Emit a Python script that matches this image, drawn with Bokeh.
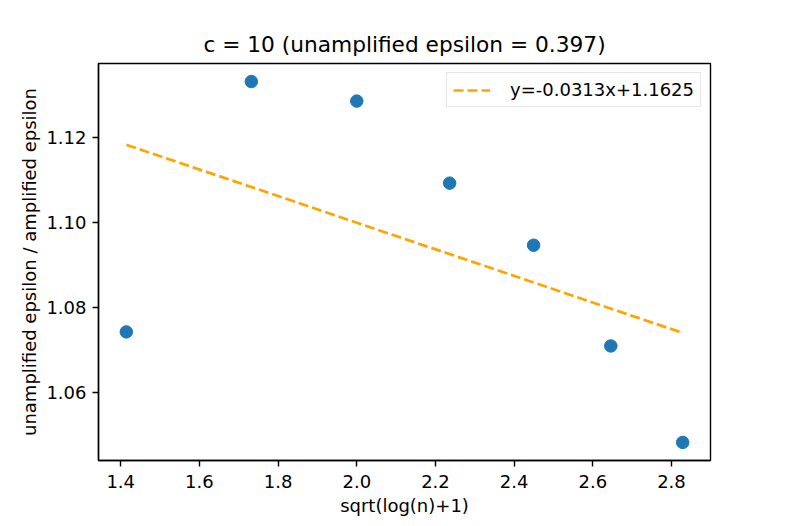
import numpy as np
from bokeh.plotting import figure
from bokeh.models import Range1d, FixedTicker, Legend
from bokeh.embed import file_html
from bokeh.resources import INLINE

# data
log_n_plus_1 = [2, 3, 4, 5, 6, 7, 8]
x_vals = [float(np.sqrt(v)) for v in log_n_plus_1]
ratio = [1.0742, 1.1331, 1.1285, 1.1092, 1.0946, 1.0709, 1.0482]
slope = -0.0313
intercept = 1.1625
fit_label = "y=-0.0313x+1.1625"
title_text = "c = 10 (unamplified epsilon = 0.397)"
x_ticks = [1.4, 1.6, 1.8, 2.0, 2.2, 2.4, 2.6, 2.8]
x_tick_labels = ["1.4", "1.6", "1.8", "2.0", "2.2", "2.4", "2.6", "2.8"]
y_ticks = [1.06, 1.08, 1.10, 1.12]
y_tick_labels = ["1.06", "1.08", "1.10", "1.12"]

FONT = "DejaVu Sans"

xmin, xmax = min(x_vals), max(x_vals)
ymin, ymax = min(ratio), max(ratio)
xm = 0.05 * (xmax - xmin)
ym = 0.05 * (ymax - ymin)

p = figure(width=789, height=526, output_backend="svg", toolbar_location=None,
           x_range=Range1d(xmin - xm, xmax + xm), y_range=Range1d(ymin - ym, ymax + ym),
           min_border_left=98, min_border_right=79, min_border_top=63, min_border_bottom=66)

p.title.text = title_text
p.title.align = "center"
p.title.text_font = FONT
p.title.text_font_size = "21.7px"
p.title.text_font_style = "normal"
p.title.text_color = "black"
p.title.standoff = 14

p.grid.visible = False
p.outline_line_color = "black"
p.outline_line_width = 1.4
p.outline_line_alpha = 1

for ax in (p.xaxis[0], p.yaxis[0]):
    ax.axis_line_width = 1.4
    ax.axis_line_color = "black"
    ax.major_tick_line_width = 1.4
    ax.major_tick_line_color = "black"
    ax.major_tick_out = 6
    ax.major_tick_in = 0
    ax.minor_tick_out = 0
    ax.minor_tick_in = 0
    ax.major_label_text_font = FONT
    ax.major_label_text_font_size = "18px"
    ax.major_label_text_color = "black"
    ax.axis_label_text_font = FONT
    ax.axis_label_text_font_size = "18px"
    ax.axis_label_text_font_style = "normal"
    ax.axis_label_text_color = "black"

p.xaxis.major_label_standoff = 8
p.xaxis.axis_label_standoff = 4
p.yaxis.major_label_standoff = 6
p.yaxis.axis_label_standoff = 3

p.xaxis.ticker = FixedTicker(ticks=x_ticks)
p.xaxis.major_label_overrides = {t: l for t, l in zip(x_ticks, x_tick_labels)}
p.yaxis.ticker = FixedTicker(ticks=y_ticks)
p.yaxis.major_label_overrides = {t: l for t, l in zip(y_ticks, y_tick_labels)}
p.xaxis.axis_label = "sqrt(log(n)+1)"
p.yaxis.axis_label = "unamplified epsilon / amplified epsilon"

p.scatter(x_vals, ratio, size=12.5, color="#1f77b4", line_color="#1f77b4")

fit_x = [xmin, xmax]
fit_y = [slope * v + intercept for v in fit_x]
r = p.line(fit_x, fit_y, line_color="orange", line_width=2.7, line_dash="10 4")

legend = Legend(items=[(fit_label, [r])], location="top_right")
legend.label_text_font = FONT
legend.label_text_font_size = "18px"
legend.label_text_color = "black"
legend.border_line_color = "#cccccc"
legend.border_line_width = 1
legend.background_fill_alpha = 0.8
legend.padding = 6
legend.glyph_width = 37
legend.label_standoff = 20
legend.margin = 9
p.add_layout(legend)

open("out.html", "w").write(file_html(p, INLINE))
